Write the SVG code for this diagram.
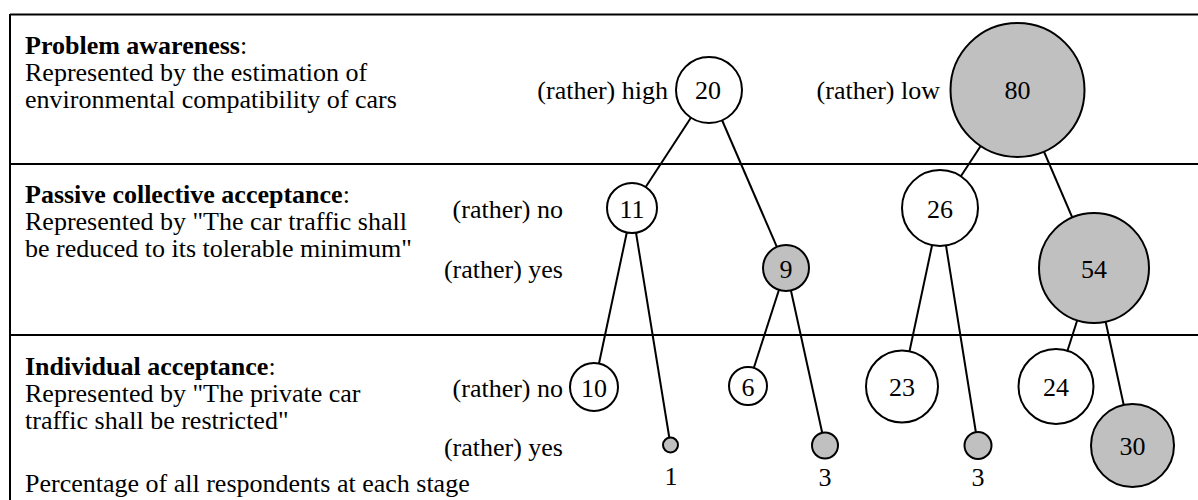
<svg xmlns="http://www.w3.org/2000/svg" width="1198" height="500" viewBox="0 0 1198 500">
<style>
text{font-family:"Liberation Serif","Times New Roman",serif;font-size:26px;fill:#000}
.b{font-weight:bold}
.e{text-anchor:end}
.m{text-anchor:middle}
.frame{stroke:#000;stroke-width:2;fill:none}
.edge{stroke:#000;stroke-width:2;fill:none}
.w{fill:#fff;stroke:#000;stroke-width:2}
.g{fill:#c0c0c0;stroke:#000;stroke-width:2}
</style>
<rect width="1198" height="500" fill="#fff"/>
<g id="frame">
<line class="frame" x1="10" y1="14.5" x2="1198" y2="14.5"/>
<line class="frame" x1="10" y1="14" x2="10" y2="500"/>
<line class="frame" x1="10" y1="164" x2="1198" y2="164"/>
<line class="frame" x1="10" y1="335" x2="1198" y2="335"/>
</g>
<g id="stage-labels">
<text x="25" y="54"><tspan class="b">Problem awareness</tspan>:</text>
<text x="25" y="81">Represented by the estimation of</text>
<text x="25" y="108">environmental compatibility of cars</text>
<text x="25" y="203"><tspan class="b">Passive collective acceptance</tspan>:</text>
<text x="25" y="230">Represented by "The car traffic shall</text>
<text x="25" y="257">be reduced to its tolerable minimum"</text>
<text x="25" y="375"><tspan class="b">Individual acceptance</tspan>:</text>
<text x="25" y="402">Represented by "The private car</text>
<text x="25" y="429">traffic shall be restricted"</text>
<text x="25" y="492">Percentage of all respondents at each stage</text>
</g>
<g id="answer-labels">
<text class="e" x="668" y="99">(rather) high</text>
<text class="e" x="940" y="99">(rather) low</text>
<text class="e" x="563" y="218">(rather) no</text>
<text class="e" x="563" y="278">(rather) yes</text>
<text class="e" x="563" y="397">(rather) no</text>
<text class="e" x="563" y="456">(rather) yes</text>
</g>
<g id="connectors">
<line class="edge" x1="709" y1="90" x2="632" y2="208"/>
<line class="edge" x1="709" y1="90" x2="786" y2="268"/>
<line class="edge" x1="1017.5" y1="90" x2="940" y2="208"/>
<line class="edge" x1="1017.5" y1="90" x2="1094" y2="268"/>
<line class="edge" x1="632" y1="208" x2="594" y2="387"/>
<line class="edge" x1="632" y1="208" x2="670.5" y2="445"/>
<line class="edge" x1="786" y1="268" x2="748" y2="386"/>
<line class="edge" x1="786" y1="268" x2="825" y2="445.5"/>
<line class="edge" x1="940" y1="208" x2="902" y2="386.5"/>
<line class="edge" x1="940" y1="208" x2="978" y2="445.5"/>
<line class="edge" x1="1094" y1="268" x2="1056" y2="386.5"/>
<line class="edge" x1="1094" y1="268" x2="1132.5" y2="445.5"/>
</g>
<g id="n20"><circle class="w" cx="709" cy="90" r="33"/><text class="m" x="708" y="99">20</text></g>
<g id="n80"><circle class="g" cx="1017.5" cy="90" r="67"/><text class="m" x="1017.5" y="99">80</text></g>
<g id="n11"><circle class="w" cx="632" cy="208" r="25"/><text class="m" x="632" y="218">11</text></g>
<g id="n9"><circle class="g" cx="786" cy="268" r="23"/><text class="m" x="786" y="278">9</text></g>
<g id="n26"><circle class="w" cx="940" cy="208" r="38"/><text class="m" x="940" y="218">26</text></g>
<g id="n54"><circle class="g" cx="1094" cy="268" r="55"/><text class="m" x="1094" y="278">54</text></g>
<g id="n10"><circle class="w" cx="594" cy="387" r="24"/><text class="m" x="594" y="397">10</text></g>
<g id="n1"><circle class="g" cx="670.5" cy="445" r="7.5"/><text class="m" x="671" y="485">1</text></g>
<g id="n6"><circle class="w" cx="748" cy="386" r="19"/><text class="m" x="748" y="396">6</text></g>
<g id="n3a"><circle class="g" cx="825" cy="445.5" r="13"/><text class="m" x="825" y="486">3</text></g>
<g id="n23"><circle class="w" cx="902" cy="386.5" r="36"/><text class="m" x="902" y="396">23</text></g>
<g id="n3b"><circle class="g" cx="978" cy="445.5" r="13.5"/><text class="m" x="978" y="486">3</text></g>
<g id="n24"><circle class="w" cx="1056" cy="386.5" r="37.5"/><text class="m" x="1056" y="396">24</text></g>
<g id="n30"><circle class="g" cx="1132.5" cy="445.5" r="41.5"/><text class="m" x="1132.5" y="455">30</text></g>
</svg>
